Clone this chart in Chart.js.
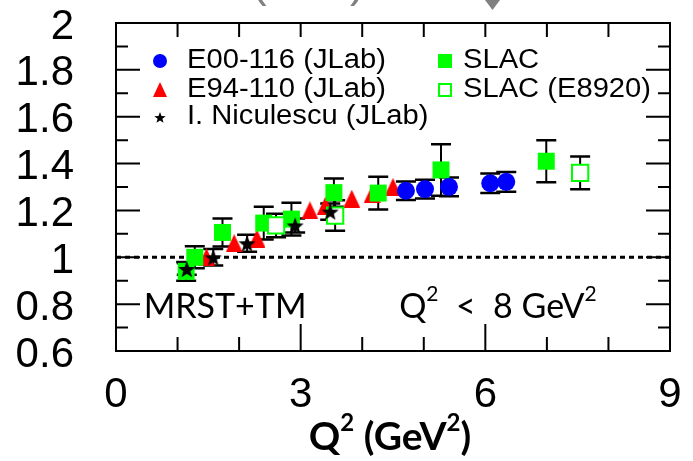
<!DOCTYPE html>
<html>
<head>
<meta charset="utf-8">
<script src="https://cdn.jsdelivr.net/npm/chart.js@4.4.1/dist/chart.umd.min.js"></script>
<style>
  html, body { margin: 0; padding: 0; background: #fff; }
</style>
</head>
<body>
<canvas id="ratioChart" width="693" height="461"></canvas>
<script>
// E00-116 (JLab)
const e00Q2 = [4.71, 5.02, 5.41, 6.08, 6.34];
const e00Ratio = [1.284, 1.291, 1.301, 1.316, 1.322];
const e00Err = [0.04, 0.04, 0.04, 0.042, 0.042];

// E94-110 (JLab)
const e94Q2 = [1.47, 1.92, 2.29, 3.15, 3.40, 3.83, 4.16, 4.50];
const e94Ratio = [1.00, 1.06, 1.08, 1.20, 1.22, 1.25, 1.27, 1.30];

// I. Niculescu (JLab)
const nicQ2 = [1.15, 1.58, 2.13, 2.91, 3.48];
const nicRatio = [0.95, 1.00, 1.06, 1.136, 1.195];
const nicErr = [0.025, 0.035, 0.036, 0.03, 0.035];

// SLAC
const slacQ2 = [1.14, 1.28, 1.73, 2.40, 2.85, 3.54, 4.26, 5.28, 6.99];
const slacRatio = [0.94, 1.00, 1.106, 1.146, 1.163, 1.276, 1.274, 1.373, 1.41];
const slacErr = [0.04, 0.047, 0.06, 0.07, 0.07, 0.06, 0.07, 0.11, 0.09];

// SLAC (E8920)
const e8920Q2 = [2.60, 3.56, 7.54];
const e8920Ratio = [1.136, 1.178, 1.36];
const e8920Err = [0.05, 0.065, 0.07];

// ratio = 1 reference
const refQ2 = [0, 9];
const refRatio = [1, 1];

// labelled ticks
const xLabelled = [0, 3, 6, 9];
const yLabelled = ['0.6', '0.8', '1', '1.2', '1.4', '1.6', '1.8', '2'];

const toPoints = (xs, ys) => xs.map((x, i) => ({ x: x, y: ys[i] }));
const fmtY = v => String(Math.round(v * 10) / 10);

function starImage(size, color) {
  const c = document.createElement('canvas');
  c.width = c.height = size;
  const g = c.getContext('2d');
  const r = size / 2, ri = r * 0.42;
  g.beginPath();
  for (let k = 0; k < 10; k++) {
    const rad = k % 2 ? ri : r;
    const ang = -Math.PI / 2 + k * Math.PI / 5;
    g.lineTo(r + rad * Math.cos(ang), r + 1 + rad * Math.sin(ang));
  }
  g.closePath();
  g.fillStyle = color;
  g.fill();
  return c;
}

function triangleImage(w, h, color) {
  const c = document.createElement('canvas');
  c.width = w; c.height = h;
  const g = c.getContext('2d');
  g.beginPath();
  g.moveTo(w / 2, 0);
  g.lineTo(w, h);
  g.lineTo(0, h);
  g.closePath();
  g.fillStyle = color;
  g.fill();
  return c;
}

const starImg = starImage(18, '#000');
const triImg = triangleImage(17, 18, '#ff0000');
const starSmall = starImage(12, '#000');
const triSmall = triangleImage(14, 15, '#ff0000');

// vertical error bars with caps, under the markers
const errorBars = {
  id: 'errorBars',
  beforeDatasetsDraw(chart) {
    const { ctx, scales: { x, y } } = chart;
    ctx.save();
    ctx.strokeStyle = '#000';
    chart.data.datasets.forEach((ds, i) => {
      if (!ds.errors || !chart.isDatasetVisible(i)) return;
      ds.data.forEach((p, j) => {
        const px = x.getPixelForValue(p.x);
        const top = y.getPixelForValue(p.y + ds.errors[j]);
        const bot = y.getPixelForValue(p.y - ds.errors[j]);
        ctx.lineWidth = 2;
        ctx.beginPath();
        ctx.moveTo(px, top); ctx.lineTo(px, bot);
        ctx.stroke();
        ctx.lineWidth = 2.5;
        ctx.beginPath();
        ctx.moveTo(px - 10, top); ctx.lineTo(px + 10, top);
        ctx.moveTo(px - 10, bot); ctx.lineTo(px + 10, bot);
        ctx.stroke();
      });
    });
    ctx.restore();
  }
};

// box around the plot with inward ticks on all four sides
const frameTicks = {
  id: 'frameTicks',
  afterDraw(chart) {
    const { ctx, chartArea: a, scales: { x, y } } = chart;
    ctx.save();
    ctx.strokeStyle = '#000';
    ctx.lineWidth = 2;
    ctx.strokeRect(a.left, a.top, a.right - a.left, a.bottom - a.top);
    ctx.beginPath();
    x.ticks.forEach(t => {
      const px = x.getPixelForValue(t.value);
      const len = xLabelled.includes(t.value) ? 27 : 14;
      ctx.moveTo(px, a.bottom); ctx.lineTo(px, a.bottom - len);
      ctx.moveTo(px, a.top); ctx.lineTo(px, a.top + 14);
    });
    y.ticks.forEach(t => {
      const py = y.getPixelForValue(t.value);
      const len = yLabelled.includes(fmtY(t.value)) ? 24 : 12;
      ctx.moveTo(a.left, py); ctx.lineTo(a.left + len, py);
      ctx.moveTo(a.right, py); ctx.lineTo(a.right - len, py);
    });
    ctx.stroke();
    ctx.restore();
  }
};

// text runs with raised superscript pieces
function drawRich(ctx, parts, x, y, size, weight, align) {
  const base = weight + ' ' + size + 'px Lato';
  const sup = weight + ' ' + Math.round(size * 0.62) + 'px Lato';
  let total = 0;
  parts.forEach(p => {
    ctx.font = p.sup ? sup : base;
    p.w = ctx.measureText(p.t).width;
    total += p.w;
  });
  let cx = align === 'center' ? x - total / 2 : x;
  parts.forEach(p => {
    ctx.font = p.sup ? sup : base;
    ctx.fillText(p.t, cx, p.sup ? y - size * 0.5 : y);
    cx += p.w;
  });
}

// legend entry text, slightly widened
function legendText(ctx, str, x, y) {
  ctx.save();
  ctx.translate(x, y);
  ctx.scale(1.08, 1);
  ctx.fillText(str, 0, 0);
  ctx.restore();
}

// legend, notes, axis title
const textLayer = {
  id: 'textLayer',
  afterDraw(chart) {
    const { ctx, chartArea: a, scales: { x, y } } = chart;
    ctx.save();

    // legend
    const c1 = a.left + 44, t1 = a.left + 71;
    const c2 = a.left + 329, t2 = a.left + 347;
    const r1 = a.top + 38, r2 = a.top + 67, r3 = a.top + 94;
    ctx.fillStyle = '#0000ff';
    ctx.beginPath(); ctx.arc(c1, r1, 7, 0, Math.PI * 2); ctx.fill();
    ctx.drawImage(triSmall, c1 - 7, r2 - 8);
    ctx.drawImage(starSmall, c1 - 6, r3 - 6);
    ctx.fillStyle = '#00ff00';
    ctx.fillRect(c2 - 7, r1 - 7, 14, 14);
    ctx.strokeStyle = '#00ff00';
    ctx.lineWidth = 2;
    ctx.strokeRect(c2 - 6, r2 - 6, 12, 12);

    ctx.fillStyle = '#000';
    ctx.font = '27px "Liberation Sans", Arial, sans-serif';
    ctx.textBaseline = 'middle';
    legendText(ctx, 'E00-116 (JLab)', t1, r1);
    legendText(ctx, 'E94-110 (JLab)', t1, r2);
    legendText(ctx, 'I. Niculescu (JLab)', t1, r3);
    legendText(ctx, 'SLAC', t2, r1);
    legendText(ctx, 'SLAC (E8920)', t2, r2);

    // notes inside the plot
    ctx.textBaseline = 'alphabetic';
    const noteY = y.getPixelForValue(0.742);
    drawRich(ctx, [{ t: 'MRST+TM' }], x.getPixelForValue(0.45), noteY, 34, 'normal', 'left');
    drawRich(ctx, [{ t: 'Q' }, { t: '2', sup: true }, { t: '  <  8 GeV' }, { t: '2', sup: true }],
      x.getPixelForValue(4.6), noteY, 34, 'normal', 'left');

    // x axis title
    drawRich(ctx, [{ t: 'Q' }, { t: '2', sup: true }, { t: ' (GeV' }, { t: '2', sup: true }, { t: ')' }],
      (a.left + a.right) / 2 - 3, 450, 39, 'bold', 'center');

    // bits of the slide above the plot
    ctx.fillStyle = '#808080';
    ctx.font = '44px "Liberation Sans", Arial, sans-serif';
    ctx.fillText('(', 252, -3);
    ctx.fillText(')', 350, -3);
    ctx.beginPath();
    ctx.moveTo(485, 0); ctx.lineTo(500, 0); ctx.lineTo(492.5, 10);
    ctx.closePath(); ctx.fill();
    ctx.restore();
  }
};

const ctx = document.getElementById('ratioChart').getContext('2d');

const data = {
  datasets: [
    {
      label: 'I. Niculescu (JLab)',
      data: toPoints(nicQ2, nicRatio),
      errors: nicErr,
      pointStyle: starImg,
      pointRadius: 9,
      pointHoverRadius: 9,
      backgroundColor: '#000',
      borderWidth: 0
    },
    {
      label: 'E00-116 (JLab)',
      data: toPoints(e00Q2, e00Ratio),
      errors: e00Err,
      pointStyle: 'circle',
      pointRadius: 9,
      pointHoverRadius: 9,
      backgroundColor: '#0000ff',
      borderWidth: 0
    },
    {
      label: 'SLAC (E8920)',
      data: toPoints(e8920Q2, e8920Ratio),
      errors: e8920Err,
      pointStyle: 'rect',
      pointRadius: 11.5,
      pointHoverRadius: 11.5,
      backgroundColor: '#ffffff',
      borderColor: '#00ff00',
      borderWidth: 2
    },
    {
      label: 'SLAC',
      data: toPoints(slacQ2, slacRatio),
      errors: slacErr,
      pointStyle: 'rect',
      pointRadius: 12,
      pointHoverRadius: 12,
      backgroundColor: '#00ff00',
      borderWidth: 0
    },
    {
      label: 'E94-110 (JLab)',
      data: toPoints(e94Q2, e94Ratio),
      pointStyle: triImg,
      pointRadius: 9,
      pointHoverRadius: 9,
      backgroundColor: '#ff0000',
      borderWidth: 0
    },
    {
      label: 'MRST+TM',
      data: toPoints(refQ2, refRatio),
      showLine: true,
      pointRadius: 0,
      borderColor: '#000',
      borderWidth: 3,
      borderDash: [5, 4]
    }
  ]
};

const config = {
  type: 'scatter',
  data,
  options: {
    responsive: false,
    animation: false,
    layout: { padding: { top: 23, right: 23, bottom: 4, left: 0 } },
    plugins: {
      legend: { display: false },
      tooltip: { enabled: false }
    },
    scales: {
      x: {
        type: 'linear',
        min: 0,
        max: 9,
        grid: { display: false },
        border: { display: false },
        ticks: {
          stepSize: 1,
          padding: 11,
          color: '#000',
          maxRotation: 0,
          autoSkip: false,
          font: { family: '"Liberation Sans", Arial, sans-serif', size: 42 },
          callback: v => xLabelled.includes(v) ? String(v) : ''
        },
        afterFit(s) { s.height = 106; s.paddingLeft = 0; s.paddingRight = 0; }
      },
      y: {
        type: 'linear',
        min: 0.6,
        max: 2,
        grid: { display: false },
        border: { display: false },
        ticks: {
          stepSize: 0.1,
          padding: 34,
          labelOffset: 4,
          color: '#000',
          autoSkip: false,
          font: { family: '"Liberation Sans", Arial, sans-serif', size: 42 },
          callback: v => yLabelled.includes(fmtY(v)) ? fmtY(v) : ''
        },
        afterFit(s) { s.width = 116; s.paddingTop = 0; s.paddingBottom = 0; }
      }
    }
  },
  plugins: [errorBars, frameTicks, textLayer]
};

const ratioChart = new Chart(ctx, config);
</script>
</body>
</html>
